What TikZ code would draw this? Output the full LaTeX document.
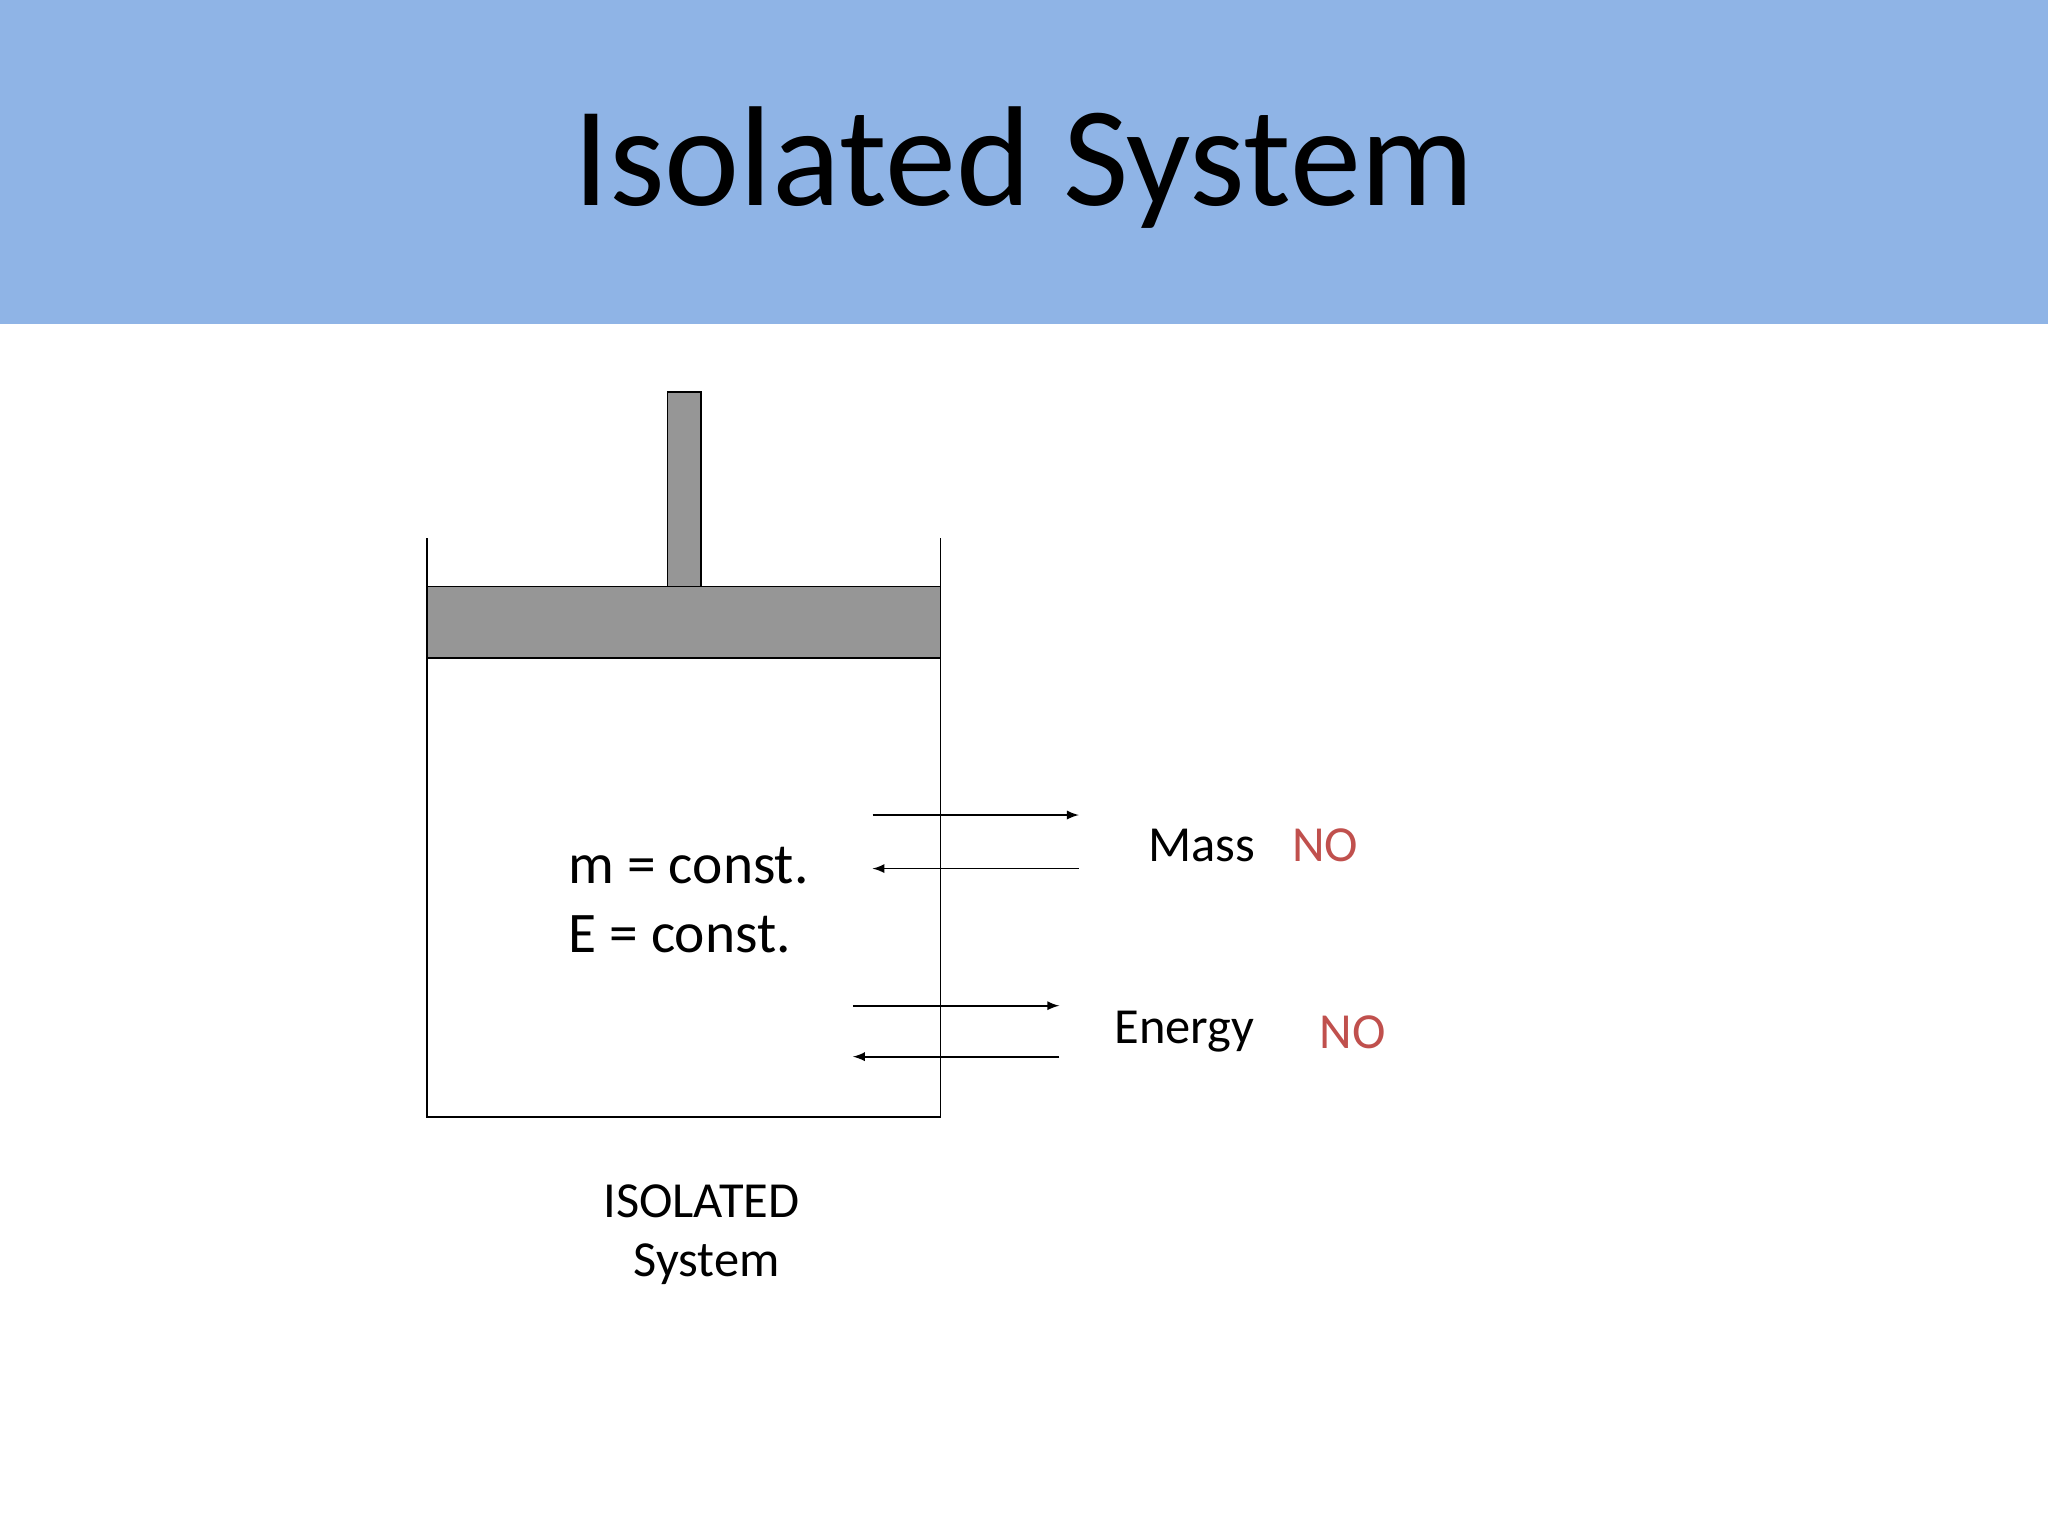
\documentclass[tikz,border=0pt]{standalone}
\usepackage{fontspec}
\setmainfont{Carlito}
\definecolor{band}{HTML}{8FB4E6}
\definecolor{piston}{HTML}{969696}
\definecolor{nored}{HTML}{C0504D}
\begin{document}
\begin{tikzpicture}[x=0.02cm,y=-0.02cm,
  lbl/.style={inner sep=0pt,font=\fontsize{22}{26}\selectfont},
  arr/.style={-latex,line width=0.8pt}]
\useasboundingbox (0,0) rectangle (1568,1176);
\fill[band] (0,0) rectangle (1568,248);
\node[inner sep=0pt,font=\fontsize{62}{70}\selectfont] (title) at (784,128) {Isolated System};
% cylinder
\draw[line width=0.8pt] (327,412) -- (327,855) -- (720,855) -- (720,412);
\draw[fill=piston,line width=0.8pt] (327,449) rectangle (720,504);
\draw[fill=piston,line width=0.8pt] (511,300) rectangle (537,449);
\node[lbl,anchor=west,font=\fontsize{25}{30}\selectfont] (m) at (435,663) {m = const.};
\node[lbl,anchor=west,font=\fontsize{25}{30}\selectfont] (E) at (435,715) {E = const.};
\coordinate (a1) at (668,624); \coordinate (a2) at (826,624);
\coordinate (b1) at (826,665); \coordinate (b2) at (668,665);
\coordinate (c1) at (653,770); \coordinate (c2) at (811,770);
\coordinate (d1) at (811,809); \coordinate (d2) at (653,809);
\draw[arr] (a1) -- (a2);
\draw[arr] (b1) -- (b2);
\draw[arr] (c1) -- (c2);
\draw[arr] (d1) -- (d2);
\node[lbl,anchor=west] (mass) at (879,647) {Mass};
\node[lbl,anchor=west,text=nored] (no1) at (989,647) {NO};
\node[lbl,anchor=west] (energy) at (853,790) {Energy};
\node[lbl,anchor=west,text=nored] (no2) at (1010,790) {NO};
\node[lbl] (iso) at (537,920) {ISOLATED};
\node[lbl] (sys) at (541,968) {System};
\end{tikzpicture}
\end{document}
